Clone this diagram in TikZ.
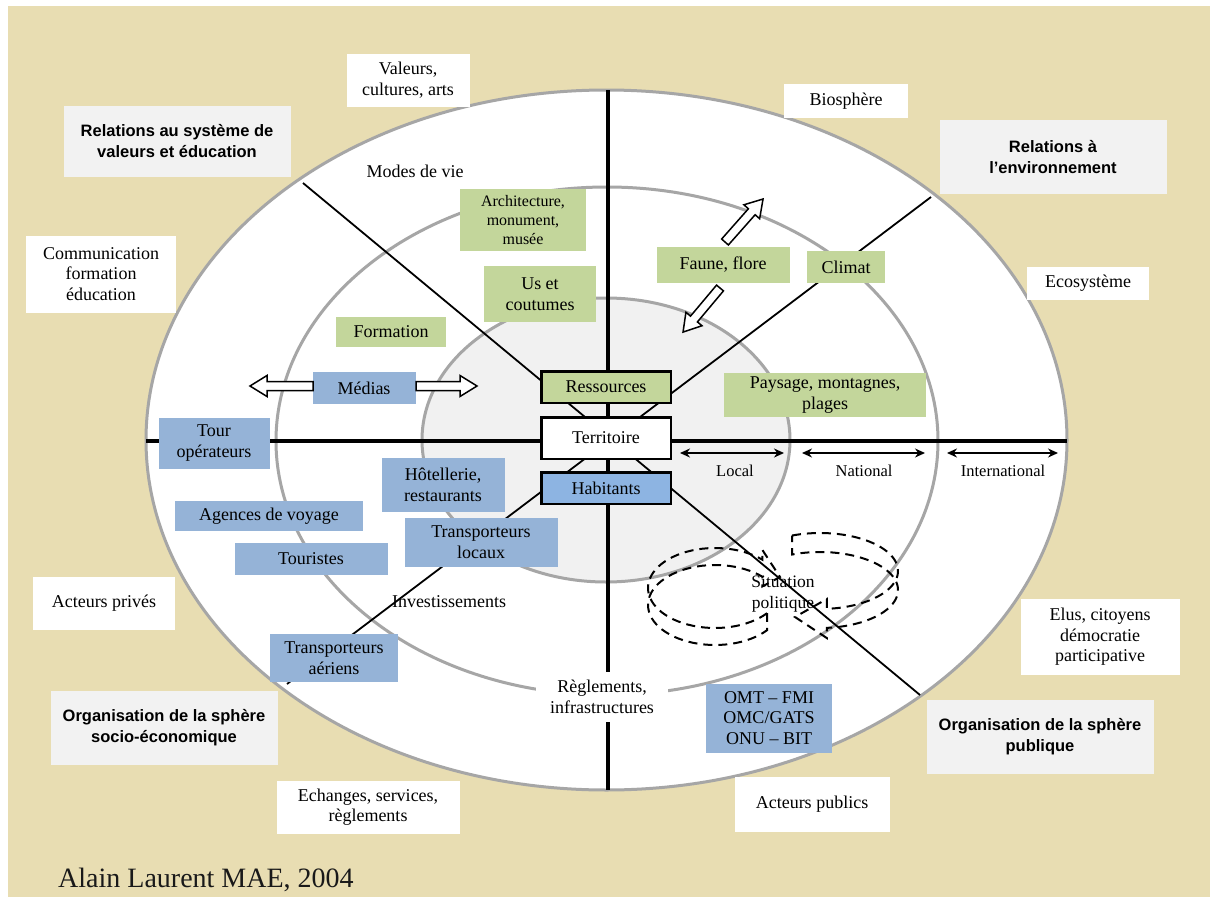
\documentclass[tikz,border=0pt]{standalone}
\usepackage{fontspec}
\setmainfont{Liberation Serif}
\setsansfont{Liberation Sans}
\usetikzlibrary{arrows.meta}
\definecolor{bg}{HTML}{E8DDB2}
\definecolor{ringgray}{HTML}{A6A6A6}
\definecolor{coregray}{HTML}{F1F1F1}
\definecolor{boxgray}{HTML}{F2F2F2}
\definecolor{greenA}{HTML}{C3D69B}
\definecolor{blueA}{HTML}{95B3D7}
\definecolor{blueB}{HTML}{8DB4E2}
\newcommand\blockarrow[4]{%
  \draw[blockarr,shift={(#1,#2)},rotate=#3] (0,-4.5) -- (#4-17,-4.5) -- (#4-17,-10.5) -- (#4,0) -- (#4-17,10.5) -- (#4-17,4.5) -- (0,4.5) -- cycle;}
\tikzset{
  lbl/.style={font=\fontsize{18}{20.5}\selectfont, align=center, inner sep=0pt},
  smalllbl/.style={font=\fontsize{16.5}{19}\selectfont, align=center, inner sep=0pt},
  whitebox/.style={lbl, fill=white},
  graybox/.style={fill=boxgray, font=\sffamily\bfseries\fontsize{16.5}{21}\selectfont, align=center, inner sep=0pt},
  greenbox/.style={lbl, fill=greenA},
  bluebox/.style={lbl, fill=blueA},
  corebox/.style={lbl, draw=black, line width=2.5pt},
  ring/.style={draw=ringgray, line width=3pt},
  axis/.style={line width=4pt, black},
  diag/.style={line width=1.8pt, black},
  scalearr/.style={line width=1.5pt, {Stealth[length=10pt,width=9pt]}-{Stealth[length=10pt,width=9pt]}},
  blockarr/.style={draw=black, fill=white, line width=1.5pt, line join=miter},
  cycledash/.style={draw=black, line width=2pt, dash pattern=on 9pt off 6pt}
}
\begin{document}
\begin{tikzpicture}[x=1pt,y=-1pt]
\useasboundingbox (0,0) rectangle (1213,902);
\fill[white] (0,0) rectangle (1213,902);
\fill[bg] (8,6) rectangle (1210,897);

% ellipses
\draw[ring, fill=white] (606.5,440) ellipse[x radius=460.5, y radius=350];
\draw[ring, fill=white] (607,441) ellipse[x radius=331, y radius=254];
\draw[ring, fill=coregray] (606,440) ellipse[x radius=184, y radius=142];

% axes
\coordinate (vt) at (608,90);
\coordinate (vb) at (608,790);
\coordinate (hl) at (146,441);
\coordinate (hr) at (1067,441);
\coordinate (d1a) at (303,183);
\coordinate (d1b) at (920,695);
\coordinate (d2a) at (931,197);
\coordinate (d2b) at (287,684);
\draw[diag] (d1a) -- (d1b);
\draw[diag] (d2a) -- (d2b);
\draw[axis] (vt) -- (vb);
\draw[axis] (hl) -- (hr);

% scale arrows
\coordinate (l1) at (680,453); \coordinate (l2) at (784,453);
\coordinate (n1) at (802,453); \coordinate (n2) at (925,453);
\coordinate (i1) at (947,453); \coordinate (i2) at (1058,453);
\draw[scalearr] (l1) -- (l2);
\draw[scalearr] (n1) -- (n2);
\draw[scalearr] (i1) -- (i2);
\node[smalllbl] (local) at (735,471) {Local};
\node[smalllbl] (national) at (864,471) {National};
\node[smalllbl] (international) at (1003,471) {International};

% dashed cycle arrows
\draw[cycledash] plot[domain=39:315, samples=60] ({715+67*cos(\x)},{588+40*sin(\x)})
  -- (762.4,550) -- (780,577) -- (762.4,586.4)
  -- plot[domain=315:39, samples=60] ({715+67*cos(\x)},{605+40*sin(\x)}) -- cycle;
\draw[cycledash] plot[domain=-111:85, samples=60] ({820+78*cos(\x)},{571+38*sin(\x)})
  -- (826.8,599) -- (795,617) -- (826.8,638)
  -- plot[domain=85:-111, samples=60] ({820+78*cos(\x)},{590+38*sin(\x)}) -- cycle;
\node[smalllbl, font=\fontsize{17.5}{21}\selectfont] (situation) at (783,594) {Situation\\politique};

% centre boxes
\node[corebox, fill=greenA, minimum width=129.5, minimum height=31.5] (res) at (606,387) {Ressources};
\node[corebox, fill=white, minimum width=129.5, minimum height=41.5] (terr) at (606,438) {Territoire};
\node[corebox, fill=blueB, minimum width=129.5, minimum height=31.5] (hab) at (606,488) {Habitants};

% green boxes
\node[greenbox, font=\fontsize{16}{19}\selectfont, minimum width=126, minimum height=62] (arch) at (523,220) {Architecture,\\monument,\\musée};
\node[greenbox, minimum width=112, minimum height=56] (us) at (540,294) {Us et\\coutumes};
\node[greenbox, minimum width=110, minimum height=30] (form) at (391,332) {Formation};
\node[greenbox, minimum width=133, minimum height=36] (faune) at (723,265) {Faune, flore};
\node[greenbox, minimum width=78, minimum height=32] (climat) at (846,267) {Climat};
\node[greenbox, minimum width=202, minimum height=44] (pays) at (825,395) {Paysage, montagnes,\\plages};

% blue boxes
\node[bluebox, minimum width=103, minimum height=32] (medias) at (364,388) {Médias};
\node[bluebox, minimum width=111, minimum height=51] (tour) at (214,443) {Tour\\opérateurs};
\node[bluebox, minimum width=123, minimum height=54] (hotel) at (443,485) {Hôtellerie,\\restaurants};
\node[bluebox, minimum width=188, minimum height=30] (agences) at (269,516) {Agences de voyage};
\node[bluebox, minimum width=153, minimum height=49] (tloc) at (481,542) {Transporteurs\\locaux};
\node[bluebox, minimum width=153, minimum height=32] (tour2) at (311,559) {Touristes};
\node[bluebox, minimum width=128, minimum height=48] (taer) at (334,658) {Transporteurs\\aériens};
\node[bluebox, minimum width=126, minimum height=69] (omt) at (769,718) {OMT – FMI\\OMC/GATS\\ONU – BIT};

% block arrows
\blockarrow{313}{386}{180}{63}
\blockarrow{416}{386}{0}{61}
\blockarrow{725}{242}{48.5}{57.4}
\blockarrow{720}{288}{-130}{57.5}

% plain labels
\node[lbl] (modes) at (415,171) {Modes de vie};
\node[lbl] (invest) at (449,602) {Investissements};
\node[whitebox, minimum width=132, minimum height=50] (regl) at (602,697) {Règlements,\\infrastructures};

% outside white boxes
\node[whitebox, minimum width=123, minimum height=53] (valeurs) at (408,80) {Valeurs,\\cultures, arts};
\node[whitebox, minimum width=124, minimum height=34] (bio) at (846,101) {Biosphère};
\node[whitebox, minimum width=150, minimum height=77] (comm) at (101,274) {Communication\\formation\\éducation};
\node[whitebox, minimum width=122, minimum height=33] (eco) at (1088,283) {Ecosystème};
\node[whitebox, minimum width=142, minimum height=53] (prives) at (104,603) {Acteurs privés};
\node[whitebox, minimum width=159, minimum height=76] (elus) at (1100,637) {Elus, citoyens\\démocratie\\participative};
\node[whitebox, minimum width=183, minimum height=53] (echanges) at (368,807) {Echanges, services,\\règlements};
\node[whitebox, minimum width=155, minimum height=55] (publics) at (812,804) {Acteurs publics};

% gray heading boxes
\node[graybox, minimum width=227, minimum height=71] (relval) at (177,141) {Relations au système de\\valeurs et éducation};
\node[graybox, minimum width=227, minimum height=74] (relenv) at (1053,157) {Relations à\\l’environnement};
\node[graybox, minimum width=227, minimum height=74] (orgsoc) at (164,728) {Organisation de la sphère\\socio-économique};
\node[graybox, minimum width=227, minimum height=74] (orgpub) at (1040,737) {Organisation de la sphère\\publique};

% credit
\node[anchor=base west, inner sep=0pt, font=\fontsize{28}{30}\selectfont, text=black!90] (credit) at (58,887) {Alain Laurent MAE, 2004};
\end{tikzpicture}
\end{document}
